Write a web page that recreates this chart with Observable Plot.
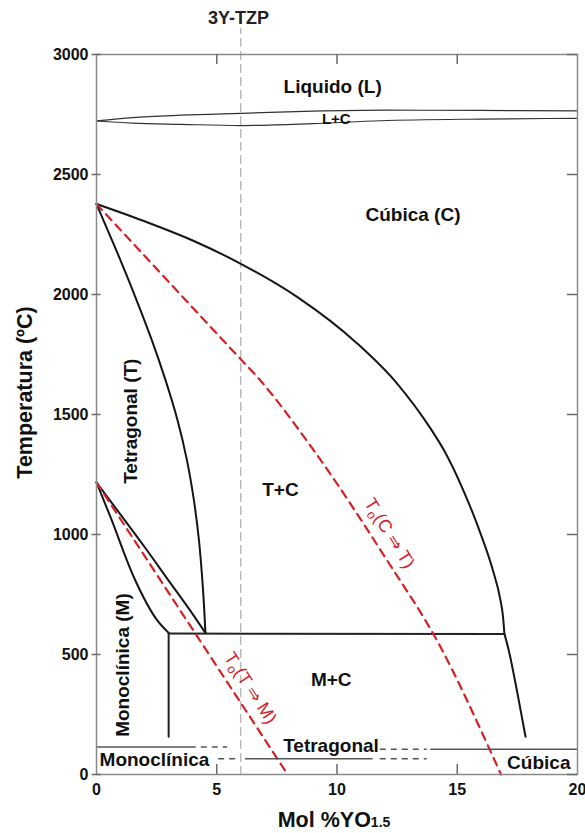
<!DOCTYPE html>
<html>
<head>
<meta charset="utf-8">
<script src="https://cdn.jsdelivr.net/npm/d3@7"></script>
<script src="https://cdn.jsdelivr.net/npm/@observablehq/plot@0.6"></script>
<style>
  html, body { margin: 0; padding: 0; background: #fff; }
  #chart { width: 585px; height: 833px; }
</style>
</head>
<body>
<div id="chart"></div>
<script>
// ---- data (mol % YO1.5, temperature °C) ----
const xTickValues = [0, 5, 10, 15, 20];
const xInnerTicks = [5, 10, 15];
const yTickValues = [0, 500, 1000, 1500, 2000, 2500, 3000];

const liquidusX = [0, 1.5, 3.5, 6, 9, 12, 16, 20];
const liquidusT = [2723, 2737, 2747, 2755, 2764, 2768, 2767, 2765];
const solidusX = [0, 1.5, 3.5, 6, 9, 11.8, 16, 20];
const solidusT = [2723, 2714, 2709, 2704, 2712, 2724, 2731, 2734];

const cubicX = [0, 2, 4, 6, 8.34, 10.84, 12.5, 13.9, 14.45, 15.27, 15.97, 16.5, 16.78, 16.9, 16.96];
const cubicT = [2377, 2305, 2225, 2128, 1990, 1796, 1629, 1440, 1351, 1180, 1004, 845, 735, 660, 587];
const cubicLowX = [16.96, 17.14, 17.5, 17.84];
const cubicLowT = [587, 518, 340, 157];

const tetraX = [0, 0.82, 1.57, 2.30, 2.87, 3.37, 3.76, 4.05, 4.26, 4.43, 4.53];
const tetraT = [2377, 2185, 2001, 1810, 1643, 1476, 1310, 1143, 976, 768, 589];

const monoUpX = [0, 1, 2, 3, 4, 4.53];
const monoUpT = [1217, 1083, 948, 808, 668, 590];
const monoLowX = [0, 0.58, 1.55, 2.52, 3.0];
const monoLowT = [1217, 1073, 823, 643, 590];

const eutectoidX = [3.0, 16.96];
const eutectoidT = [587, 585];
const monoVertX = [3.0, 3.0];
const monoVertT = [587, 157];

const t0ctX = [0, 3, 6, 6.68, 9.03, 12, 14.3, 16.3, 16.82];
const t0ctT = [2377, 2053, 1730, 1657, 1351, 905, 532, 115, 0];
const t0tmX = [0, 4.25, 7.95];
const t0tmT = [1217, 566, 0];

const tzpX = [6, 6];
const tzpT = [0, 3110];

// low-temperature lines
const lowSolid = [
  {x1: 0, x2: 3.9, t: 115},
  {x1: 13.9, x2: 20, t: 105},
  {x1: 6.2, x2: 11.5, t: 66}
];
const lowDashed = [
  {x1: 3.9, x2: 5.45, t: 115},
  {x1: 11.8, x2: 13.75, t: 105},
  {x1: 5.08, x2: 5.92, t: 66},
  {x1: 11.8, x2: 13.75, t: 66}
];

const regionNames = ["Liquido (L)", "Cúbica (C)", "T+C", "M+C", "Tetragonal", "Monoclínica", "Cúbica"];
const regionX = [9.82, 13.16, 7.65, 9.76, 9.75, 2.41, 18.39];
const regionT = [2865, 2330, 1185, 393, 119, 60, 50];

const smallNames = ["L+C"];
const smallX = [9.97];
const smallT = [2729];

const verticalNames = ["Tetragonal (T)", "Monoclínica (M)"];
const verticalX = [1.41, 1.1];
const verticalT = [1472, 456];

const t0Names = ["To(C ⇒ T)", "To(T ⇒ M)"];
const t0X = [12.18, 6.4];
const t0T = [1005, 360];
const t0Angle = [58, 57];

const tzpLabel = ["3Y-TZP"];
const tzpLabelX = [5.9];
const tzpLabelT = [3150];

// ---- helpers ----
const pts = (xs, ts) => xs.map((x, i) => ({x, t: ts[i]}));
const red = "#d42027";
const black = "#151515";
const tickGray = "#6a6a6a";
const font = "'Liberation Sans', Arial, sans-serif";

const chart = Plot.plot({
  width: 585,
  height: 833,
  marginLeft: 96,
  marginRight: 8,
  marginTop: 54,
  marginBottom: 59,
  x: {domain: [0, 20]},
  y: {domain: [0, 3000]},
  style: {fontFamily: font, background: "#fff", color: "#111"},
  marks: [
    // 3Y-TZP guide
    Plot.line(pts(tzpX, tzpT), {x: "x", y: "t", stroke: "#9a9a9a", strokeWidth: 1, strokeDasharray: "8,5"}),
    // liquidus / solidus
    Plot.line(pts(liquidusX, liquidusT), {x: "x", y: "t", curve: "monotone-x", stroke: "#333", strokeWidth: 1.2}),
    Plot.line(pts(solidusX, solidusT), {x: "x", y: "t", curve: "monotone-x", stroke: "#333", strokeWidth: 1.2}),
    // phase boundaries
    Plot.line(pts(cubicX, cubicT), {x: "x", y: "t", curve: "monotone-x", stroke: black, strokeWidth: 2}),
    Plot.line(pts(cubicLowX, cubicLowT), {x: "x", y: "t", curve: "monotone-x", stroke: black, strokeWidth: 2}),
    Plot.line(pts(tetraX, tetraT), {x: "x", y: "t", curve: "monotone-y", stroke: black, strokeWidth: 2}),
    Plot.line(pts(monoUpX, monoUpT), {x: "x", y: "t", curve: "monotone-x", stroke: black, strokeWidth: 2}),
    Plot.line(pts(monoLowX, monoLowT), {x: "x", y: "t", curve: "monotone-x", stroke: black, strokeWidth: 2}),
    Plot.line(pts(eutectoidX, eutectoidT), {x: "x", y: "t", stroke: "#222", strokeWidth: 2}),
    Plot.line(pts(monoVertX, monoVertT), {x: "x", y: "t", stroke: "#222", strokeWidth: 2}),
    // T0 lines
    Plot.line(pts(t0ctX, t0ctT), {x: "x", y: "t", curve: "monotone-x", stroke: red, strokeWidth: 2.2, strokeDasharray: "8,6"}),
    Plot.line(pts(t0tmX, t0tmT), {x: "x", y: "t", stroke: red, strokeWidth: 2.2, strokeDasharray: "8,6"}),
    // low temperature lines
    Plot.ruleY(lowSolid, {y: "t", x1: "x1", x2: "x2", stroke: "#555", strokeWidth: 1.5}),
    Plot.ruleY(lowDashed, {y: "t", x1: "x1", x2: "x2", stroke: "#555", strokeWidth: 1.5, strokeDasharray: "6,5"}),
    // frame
    Plot.frame({stroke: "#8a8a8a", strokeWidth: 1.5}),
    // tick marks (inward on top, bottom, right; crossing on the left)
    Plot.ruleX(xInnerTicks, {x: d => d, y1: 3000, y2: 3000, insetBottom: -10, stroke: tickGray, strokeWidth: 1.5}),
    Plot.ruleX(xInnerTicks, {x: d => d, y1: 0, y2: 0, insetTop: -10, stroke: tickGray, strokeWidth: 1.5}),
    Plot.ruleY(yTickValues, {y: d => d, x1: 20, x2: 20, insetLeft: -10, stroke: tickGray, strokeWidth: 1.5}),
    Plot.ruleY(yTickValues, {y: d => d, x1: 0, x2: 0, insetLeft: -4.5, insetRight: -4.5, stroke: tickGray, strokeWidth: 1.5}),
    // tick labels
    Plot.axisX(xTickValues, {anchor: "bottom", tickSize: 0, tickPadding: 9, label: null, fontSize: 16, fontWeight: "bold", tickFormat: d => String(d)}),
    Plot.axisY(yTickValues, {anchor: "left", tickSize: 0, tickPadding: 8, label: null, fontSize: 16, fontWeight: "bold", tickFormat: d => String(d)}),
    // axis titles
    Plot.text(["Temperatura (ºC)"], {frameAnchor: "left", textAnchor: "middle", lineAnchor: "middle", dx: -71, dy: -22, rotate: -90, fontSize: 21.5, fontWeight: "bold", fill: "#111"}),
    Plot.text(["Mol %YO1.5"], {frameAnchor: "bottom", textAnchor: "middle", lineAnchor: "middle", dx: -3, dy: 46, fontSize: 21.5, fontWeight: "bold", fill: "#111"}),
    // region labels
    Plot.text(regionNames, {x: (d, i) => regionX[i], y: (d, i) => regionT[i], text: d => d, fontSize: 19, fontWeight: "bold", fill: "#111"}),
    Plot.text(smallNames, {x: (d, i) => smallX[i], y: (d, i) => smallT[i], text: d => d, fontSize: 15, fontWeight: "bold", fill: "#111"}),
    Plot.text(verticalNames, {x: (d, i) => verticalX[i], y: (d, i) => verticalT[i], text: d => d, rotate: -90, fontSize: 19, fontWeight: "bold", fill: "#111"}),
    Plot.text(t0Names, {x: (d, i) => t0X[i], y: (d, i) => t0T[i], text: d => d, rotate: (d, i) => t0Angle[i], fontSize: 18, fill: red}),
    Plot.text(tzpLabel, {x: (d, i) => tzpLabelX[i], y: (d, i) => tzpLabelT[i], text: d => d, fontSize: 18, fontWeight: "bold", fill: "#222"})
  ]
});

// typographic touches: subscripts, centred axis title
const ns = "http://www.w3.org/2000/svg";
chart.querySelectorAll("text").forEach(t => {
  const s = t.textContent;
  if (s === "Temperatura (ºC)") {
    t.setAttribute("text-anchor", "middle");
  } else if (s === "Mol %YO1.5") {
    t.setAttribute("text-anchor", "middle");
    t.textContent = "Mol %YO";
    const ts = document.createElementNS(ns, "tspan");
    ts.setAttribute("font-size", "14");
    ts.textContent = "1.5";
    t.appendChild(ts);
  } else if (s.startsWith("To(")) {
    t.textContent = "T";
    const sub = document.createElementNS(ns, "tspan");
    sub.setAttribute("font-size", "13");
    sub.setAttribute("dy", "4");
    sub.textContent = "o";
    const rest = document.createElementNS(ns, "tspan");
    rest.setAttribute("dy", "-4");
    rest.textContent = s.slice(2);
    t.appendChild(sub);
    t.appendChild(rest);
  }
});

document.getElementById("chart").appendChild(chart);
</script>
</body>
</html>
